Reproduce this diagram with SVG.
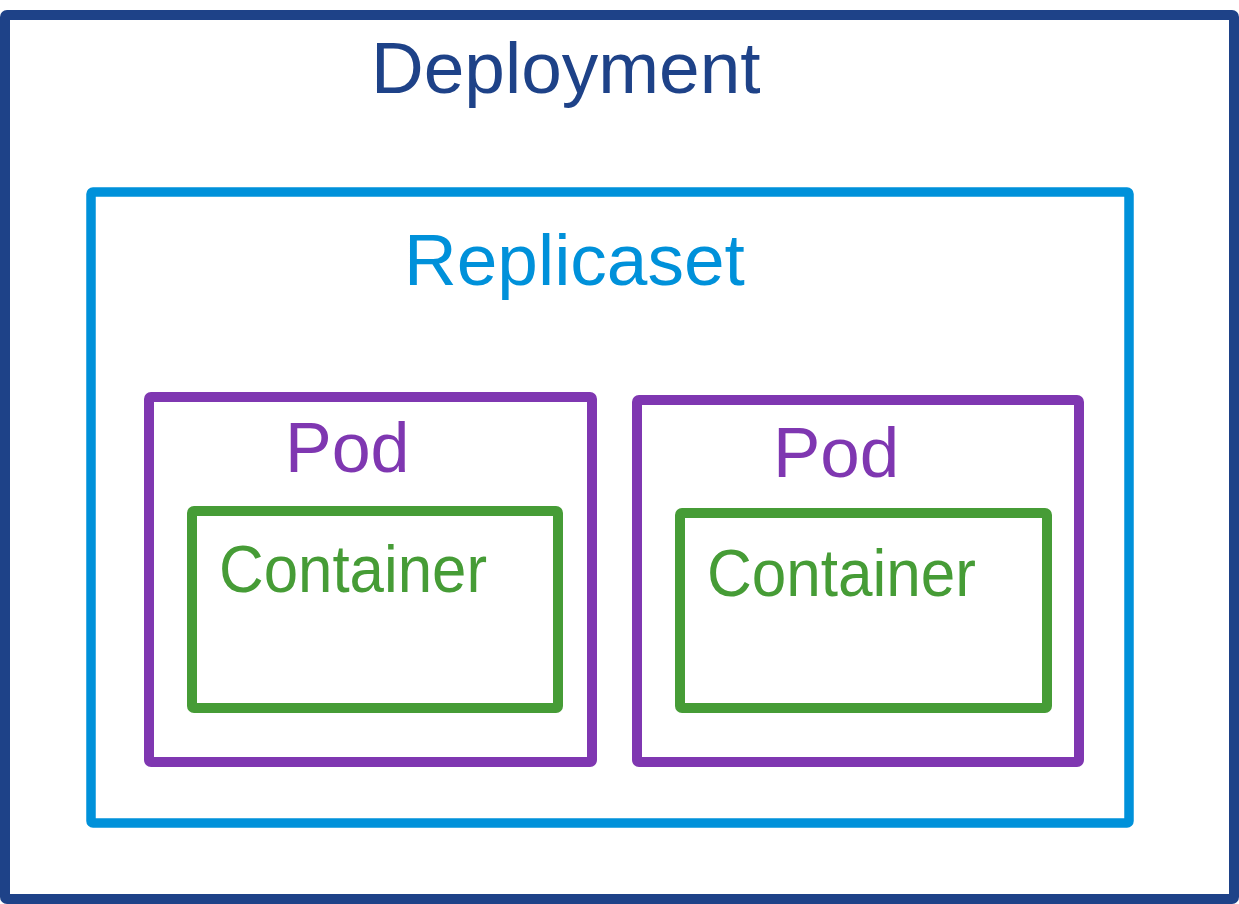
<svg xmlns="http://www.w3.org/2000/svg" width="1239" height="904" viewBox="0 0 1239 904">
  <style>
    .box { fill: none; stroke-linejoin: round; }
    .lbl { font-family: "Liberation Sans", Arial, sans-serif; }
    .dep { stroke: #1e4288; stroke-width: 10; }
    .rs { stroke: #0091da; stroke-width: 9.5; }
    .pod { stroke: #7f37b1; stroke-width: 10; }
    .ctr { stroke: #469c36; stroke-width: 10; }
  </style>
  <rect width="1239" height="904" fill="#ffffff"/>
  <g id="deployment">
    <rect class="box dep" x="5" y="15" width="1229" height="884" rx="2"/>
    <text class="lbl" x="371" y="93" font-size="73" fill="#1e4288">Deployment</text>
  </g>
  <g id="replicaset">
    <rect class="box rs" x="91" y="192" width="1038" height="631" rx="2"/>
    <text class="lbl" x="404" y="285" font-size="73" fill="#0091da">Replicaset</text>
  </g>
  <g id="pod1">
    <rect class="box pod" x="149" y="397" width="443" height="365" rx="2"/>
    <text class="lbl" x="285" y="472" font-size="70" fill="#7f37b1">Pod</text>
  </g>
  <g id="container1">
    <rect class="box ctr" x="192" y="511" width="366" height="197" rx="2"/>
    <text class="lbl" x="219" y="592" font-size="66" fill="#469c36" textLength="268" lengthAdjust="spacingAndGlyphs">Container</text>
  </g>
  <g id="pod2">
    <rect class="box pod" x="637" y="400" width="442" height="362" rx="2"/>
    <text class="lbl" x="773" y="477" font-size="71" fill="#7f37b1">Pod</text>
  </g>
  <g id="container2">
    <rect class="box ctr" x="680" y="513" width="367" height="195" rx="2"/>
    <text class="lbl" x="707" y="596" font-size="66" fill="#469c36" textLength="269" lengthAdjust="spacingAndGlyphs">Container</text>
  </g>
  <g id="connectors"></g>
</svg>
